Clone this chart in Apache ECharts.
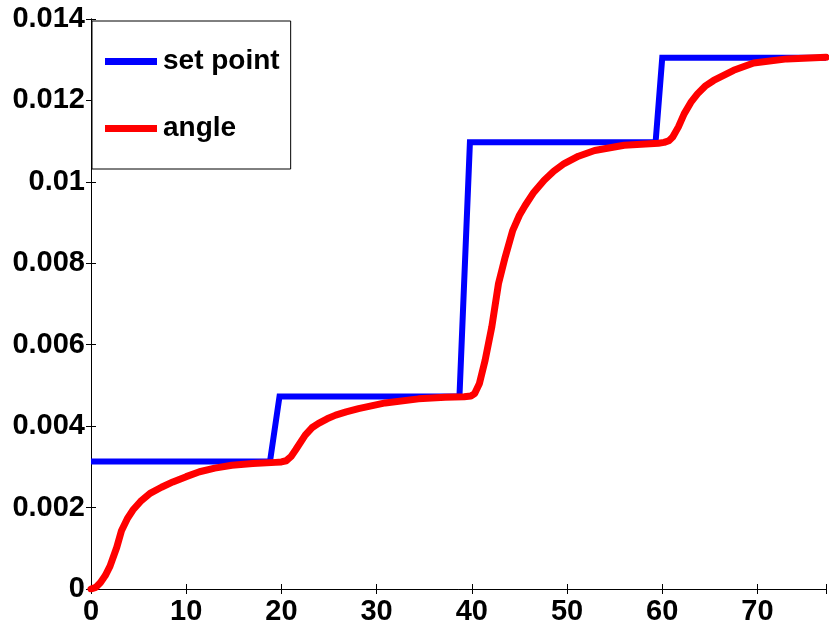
<!DOCTYPE html>
<html>
<head>
<meta charset="utf-8">
<script src="https://cdn.jsdelivr.net/npm/echarts@6/dist/echarts.min.js"></script>
<style>
  html, body { margin: 0; padding: 0; background: #fff; }
  #chart { width: 829px; height: 627px; }
</style>
</head>
<body>
<div id="chart"></div>
<script>
// Reference step input (time, value)
const setPointTime  = [0, 18.8, 19.8, 38.7, 39.8, 59.3, 60.0, 77.2];
const setPointValue = [0.00313, 0.00313, 0.00473, 0.00473, 0.01097, 0.01097, 0.01305, 0.01305];

// Measured response (time, value)
const angleTime  = [0, 0.5, 1.0, 1.5, 2.0, 2.7, 3.2, 3.8, 4.4, 5.2, 6.2, 7.4, 8.6, 10.0, 11.4, 13.0, 14.8, 17.0, 19.4, 20.0, 20.5,
                    21.0, 21.5, 22.5, 23.2, 23.9, 24.8, 25.7, 26.8, 28.1, 30.9, 34.4, 37.2, 39.2, 39.9, 40.3, 40.8, 41.4, 42.1,
                    42.8, 43.5, 44.3, 45.0, 45.6, 46.5, 47.6, 48.6, 49.7, 51.2, 52.9, 56.0, 59.6, 60.2, 60.7, 61.1, 61.7,
                    62.3, 63.0, 63.7, 64.5, 65.4, 67.5, 69.6, 73.1, 77.2];
const angleValue = [0, 0.00004, 0.00016, 0.00033, 0.00056, 0.00102, 0.00143, 0.00172, 0.00194, 0.00215, 0.00235, 0.0025, 0.00263,
                    0.00276, 0.00288, 0.00297, 0.00304, 0.00308, 0.00311, 0.00312, 0.00315, 0.00325, 0.00342, 0.00378,
                    0.00396, 0.00407, 0.00418, 0.00427, 0.00435, 0.00443, 0.00457, 0.00467, 0.00471, 0.00472, 0.00474,
                    0.0048, 0.00505, 0.00562, 0.00644, 0.0075, 0.00815, 0.00881, 0.00918, 0.00942, 0.00974, 0.01004,
                    0.01026, 0.01045, 0.01063, 0.01077, 0.0109, 0.01095, 0.01097, 0.01101, 0.0111, 0.01135, 0.01167,
                    0.01195, 0.01216, 0.01235, 0.01249, 0.01274, 0.01292, 0.01302, 0.01306];

const xTicks = [0, 10, 20, 30, 40, 50, 60, 70];
const yTicks = ['0', '0.002', '0.004', '0.006', '0.008', '0.01', '0.012', '0.014'];

const seriesNames = ['set point', 'angle'];
const seriesColors = ['#0000ff', '#ff0000'];

const zip = (xs, ys) => xs.map((x, i) => [x, ys[i]]);

const FONT = '"Liberation Sans", Arial, sans-serif';
const labelStyle = { color: '#000', fontFamily: FONT, fontWeight: 'bold', fontSize: 29 };
const axisLine = { show: true, lineStyle: { color: '#000', width: 1 } };
const axisTick = { show: true, inside: true, length: 5, lineStyle: { color: '#000', width: 1 } };

const chart = echarts.init(document.getElementById('chart'), null, { renderer: 'canvas' });

chart.setOption({
  animation: false,
  backgroundColor: '#fff',
  grid: { left: 91, top: 19, right: 0, bottom: 38, containLabel: false },
  legend: {
    orient: 'vertical',
    left: 92,
    top: 21,
    padding: [26, 11, 26, 13],
    itemGap: 38,
    itemWidth: 52,
    itemHeight: 7,
    icon: 'rect',
    borderColor: '#000',
    borderWidth: 1,
    backgroundColor: '#fff',
    textStyle: Object.assign({}, labelStyle, { fontSize: 28, lineHeight: 29, padding: [0, 0, 0, 1] }),
    data: seriesNames
  },
  xAxis: [
    {
      type: 'value', min: 0, max: 77.2, interval: 10, position: 'bottom',
      axisLine, axisTick, splitLine: { show: false },
      axisLabel: Object.assign({}, labelStyle, {
        margin: 8,
        formatter: v => (xTicks.includes(v) ? String(v) : '')
      })
    },
    {
      type: 'value', min: 0, max: 77.2, interval: 10, position: 'top',
      axisLine, axisTick, splitLine: { show: false }, axisLabel: { show: false }
    }
  ],
  yAxis: [
    {
      type: 'value', min: 0, max: 0.014, interval: 0.002, position: 'left',
      axisLine, axisTick, splitLine: { show: false },
      axisLabel: Object.assign({}, labelStyle, {
        margin: 6,
        formatter: v => yTicks[Math.round(v / 0.002)] || ''
      })
    },
    {
      type: 'value', min: 0, max: 0.014, interval: 0.002, position: 'right',
      axisLine, axisTick, splitLine: { show: false }, axisLabel: { show: false }
    }
  ],
  series: [
    {
      name: seriesNames[0], type: 'line', showSymbol: false,
      color: seriesColors[0],
      lineStyle: { color: seriesColors[0], width: 6, join: 'miter' },
      data: zip(setPointTime, setPointValue),
      z: 2
    },
    {
      name: seriesNames[1], type: 'line', showSymbol: false,
      color: seriesColors[1],
      lineStyle: { color: seriesColors[1], width: 7, join: 'round', cap: 'round' },
      data: zip(angleTime, angleValue),
      z: 3
    }
  ]
});
</script>
</body>
</html>
